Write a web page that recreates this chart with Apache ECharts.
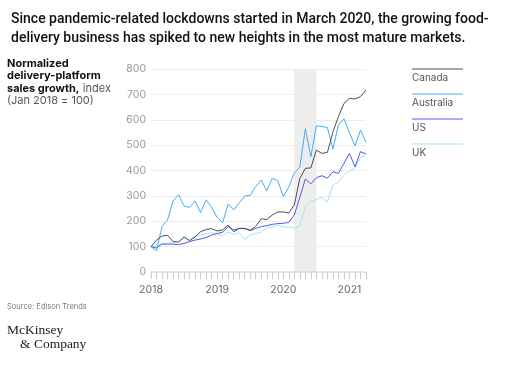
<!DOCTYPE html>
<html><head><meta charset="utf-8">
<script src="https://cdn.jsdelivr.net/npm/echarts@6/dist/echarts.min.js"></script>
<style>html,body{margin:0;padding:0;background:#fff}#c{width:512px;height:379px}</style>
</head><body><div id="c"></div>
<script>
// month index 0 = Jan 2018 ... 39 = Apr 2021
const months = Array.from({length: 40}, (_, i) => i);
const seriesNames = ['Canada', 'Australia', 'US', 'UK'];
const canada = [100,126,142,145,120,118,139,123,139,159,168,171,162,166,185,159,172,172,165,180,210,207,225,237,237,233,265,370,409,411,481,468,472,553,613,665,685,683,692,718];
const australia = [100,85,180,205,280,305,260,255,280,235,285,255,215,195,268,245,273,300,302,338,363,320,370,360,298,335,390,415,565,455,577,575,570,485,580,605,550,498,560,512];
const us = [100,95,110,110,110,108,113,120,126,130,136,146,152,157,179,166,172,172,163,172,179,183,188,191,192,196,225,295,367,348,372,380,370,396,389,429,468,415,475,466];
const uk = [100,102,113,113,116,122,133,129,139,146,152,155,152,142,158,149,155,129,146,152,158,174,178,185,178,178,172,183,258,277,287,293,277,343,356,383,398,410,452,460];
const yTicks = [0,100,200,300,400,500,600,700,800];
const xTickLabels = ['2018','2019','2020','2021'];
const lockdownStart = 26, lockdownEnd = 30; // Mar 2020 – Jul 2020
const colors = ['#4d4d4d', '#45acf5', '#5757ea', '#9fe6f6'];

const allData = [canada, australia, us, uk];
const chart = echarts.init(document.getElementById('c'));
const legendGraphics = [];
seriesNames.forEach((n, i) => {
  const y0 = 69 + i * 25;
  legendGraphics.push({type:'line', shape:{x1:412,y1:y0,x2:463,y2:y0}, style:{stroke:colors[i], lineWidth:1}});
  legendGraphics.push({type:'text', left:412, top:y0+4, style:{text:n, fill:'#555', font:'10px Inter'}});
});
chart.setOption({
  animation:false,
  textStyle:{fontFamily:'Inter'},
  title:{
    text:'Since pandemic-related lockdowns started in March 2020, the growing food-\ndelivery business has spiked to new heights in the most mature markets.',
    left:6, top:5,
    textStyle:{fontSize:14, fontWeight:500, color:'#111', lineHeight:19, fontFamily:'Roboto'}
  },
  graphic:[
    {type:'text', left:7, top:58, style:{
      rich:{b:{font:'bold 11px Inter', fill:'#111', lineHeight:12.5}, r:{font:'11px Inter', fill:'#555', lineHeight:12.5}},
      text:'{b|Normalized}\n{b|delivery-platform}\n{b|sales growth,} {r|index}\n{r|(Jan 2018 = 100)}'
    }},
    {type:'text', left:7, top:303, style:{text:'Source: Edison Trends', fill:'#777', font:'7.5px Inter'}},
    {type:'text', left:7, top:323, style:{text:'McKinsey', fill:'#1a1a1a', font:'13.5px "Liberation Serif"'}},
    {type:'text', left:20, top:337, style:{text:'& Company', fill:'#1a1a1a', font:'13.5px "Liberation Serif"'}},
    ...legendGraphics
  ],
  grid:{left:151, right:146, top:69.3, bottom:107, containLabel:false},
  xAxis:{
    type:'value', min:0, max:39, interval:1,
    axisLine:{show:false},
    axisTick:{show:true, length:7, lineStyle:{color:'#ccc'}},
    splitLine:{show:false},
    axisLabel:{margin:12, color:'#666', fontSize:10.5, showMaxLabel:true,
      formatter:v => (v % 12 === 0 ? xTickLabels[v/12] : '')}
  },
  yAxis:{
    type:'value', min:yTicks[0], max:yTicks[yTicks.length-1], interval:100,
    axisLine:{show:false}, axisTick:{show:false},
    axisLabel:{margin:5, color:'#999', fontSize:10.5},
    splitLine:{lineStyle:{color:'#ececec'}}
  },
  series: seriesNames.map((n, i) => ({
    name:n, type:'line', data: months.map(m => [m, allData[i][m]]),
    showSymbol:false, symbol:'none', lineStyle:{width:1, color:colors[i]}, itemStyle:{color:colors[i]},
    z: 4 - i,
    markArea: i === 0 ? {silent:true, itemStyle:{color:'#ededed'}, data:[[{xAxis:lockdownStart, yAxis:0},{xAxis:lockdownEnd, yAxis:800}]]} : undefined
  })).concat([{
    type:'line', data:[[0,0],[39,0]], symbol:'none', lineStyle:{color:'#ccc', width:1}, z:1, silent:true
  }])
});
</script></body></html>
